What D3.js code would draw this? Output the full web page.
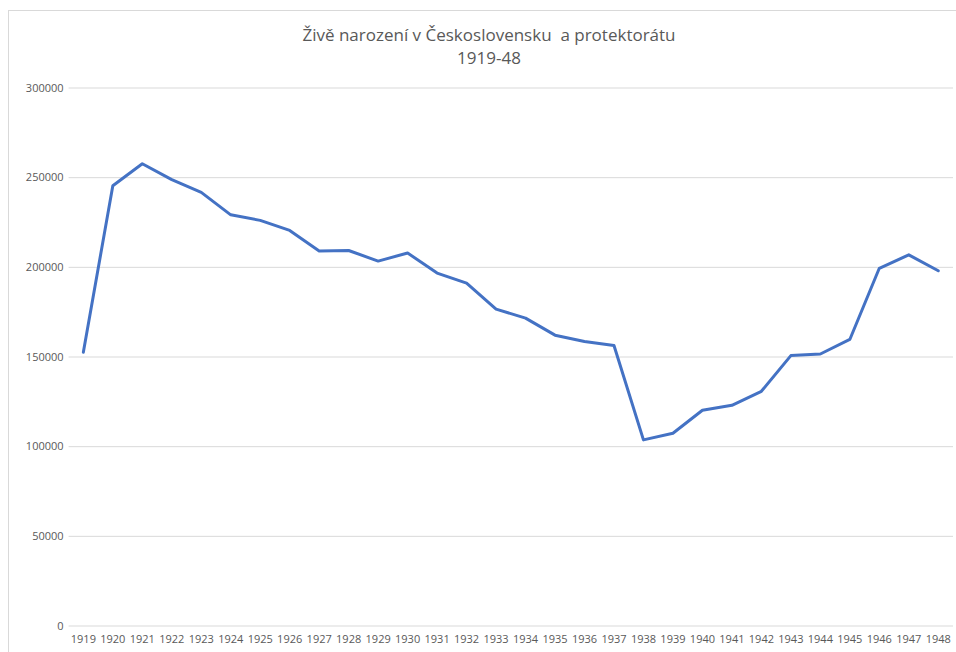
<!DOCTYPE html>
<html>
<head>
<meta charset="utf-8">
<script src="https://cdn.jsdelivr.net/npm/d3@7"></script>
<style>
  body { margin: 0; background: #fff; }
  svg { display: block; font-family: "Open Sans", sans-serif; }
</style>
</head>
<body>
<svg id="chart"></svg>
<script>
// data
const years = ['1919', '1920', '1921', '1922', '1923', '1924', '1925', '1926', '1927', '1928',
  '1929', '1930', '1931', '1932', '1933', '1934', '1935', '1936', '1937', '1938',
  '1939', '1940', '1941', '1942', '1943', '1944', '1945', '1946', '1947', '1948']
const births = [152400, 245200, 257500, 248600, 241500, 229000, 225900, 220300, 208800, 209100,
  203200, 207700, 196500, 190900, 176400, 171400, 161900, 158400, 156100, 103500,
  107200, 120000, 122800, 130600, 150500, 151400, 159500, 199200, 206700, 197800]
const yTicks = [0, 50000, 100000, 150000, 200000, 250000, 300000]
const titleLines = ['Živě narození v Československu  a protektorátu', '1919-48']

const width = 956, height = 652
const margin = { top: 87.5, right: 3, bottom: 26.5, left: 68.6 }
const w = width - margin.left - margin.right
const h = height - margin.top - margin.bottom
const textColor = '#595959'
const font = '"Open Sans", sans-serif'

const svg = d3.select('#chart')
  .attr('width', width)
  .attr('height', height)

// outer chart border (only top/left are visible in the crop)
svg.append('rect')
  .attr('x', 8.5)
  .attr('y', 10.5)
  .attr('width', width + 20)
  .attr('height', height + 20)
  .attr('fill', 'none')
  .attr('stroke', '#d9d9d9')

svg.append('g')
  .selectAll('text')
  .data(titleLines)
  .join('text')
  .attr('x', 489)
  .attr('y', (d, i) => 41 + i * 23)
  .attr('text-anchor', 'middle')
  .attr('fill', textColor)
  .style('font-size', '17px')
  .style('white-space', 'pre')
  .text(d => d)

const g = svg.append('g')
  .attr('transform', `translate(${margin.left},${margin.top})`)

const x = d3.scaleBand()
  .domain(years)
  .range([0, w])

const y = d3.scaleLinear()
  .domain([0, 300000])
  .range([h, 0])

const yAxis = d3.axisLeft(y)
  .tickValues(yTicks)
  .tickSize(-w)
  .tickPadding(6)
  .tickFormat(d3.format('d'))

g.append('g')
  .attr('class', 'y axis')
  .call(yAxis)
  .attr('font-family', font)
  .call(s => s.select('.domain').remove())
  .call(s => s.selectAll('line').attr('stroke', '#d9d9d9'))
  .call(s => s.selectAll('text').attr('fill', textColor).style('font-size', '11px').attr('x', -5))

const xAxis = d3.axisBottom(x)
  .tickSize(0)
  .tickPadding(10)

g.append('g')
  .attr('class', 'x axis')
  .attr('transform', `translate(0,${h})`)
  .call(xAxis)
  .attr('font-family', font)
  .call(s => s.select('.domain').remove())
  .call(s => s.selectAll('text').attr('fill', textColor).style('font-size', '11px'))

const line = d3.line()
  .x((d, i) => x(years[i]) + x.bandwidth() / 2)
  .y(d => y(d))

g.append('path')
  .datum(births)
  .attr('d', line)
  .attr('fill', 'none')
  .attr('stroke', '#4472c4')
  .attr('stroke-width', 3)
  .attr('stroke-linejoin', 'round')
  .attr('stroke-linecap', 'round')
</script>
</body>
</html>
